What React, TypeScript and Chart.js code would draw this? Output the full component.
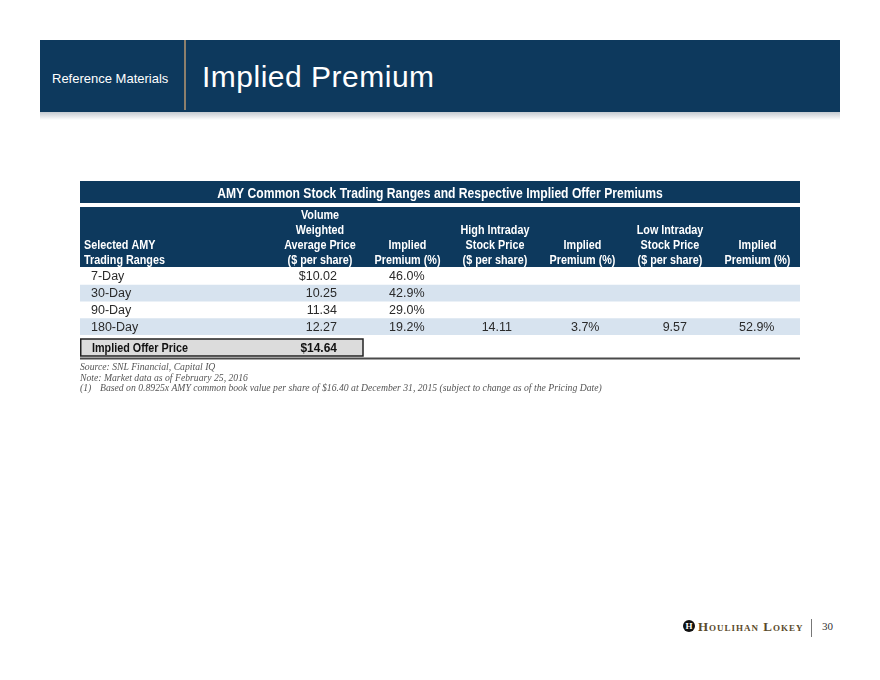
import React, { useEffect, useRef } from "react";
import { Chart, registerables } from "chart.js";

Chart.register(...registerables);

// ---- Data ----
const tableTitle = "AMY Common Stock Trading Ranges and Respective Implied Offer Premiums";
const columnHeaders: string[][] = [
  ["Selected AMY", "Trading Ranges"],
  ["Volume", "Weighted", "Average Price", "($ per share)"],
  ["Implied", "Premium (%)"],
  ["High Intraday", "Stock Price", "($ per share)"],
  ["Implied", "Premium (%)"],
  ["Low Intraday", "Stock Price", "($ per share)"],
  ["Implied", "Premium (%)"],
];
const ranges = ["7-Day", "30-Day", "90-Day", "180-Day"];
const vwapPrice = [10.02, 10.25, 11.34, 12.27];
const vwapPremium = [46.0, 42.9, 29.0, 19.2];
const highIntradayPrice: (number | null)[] = [null, null, null, 14.11];
const highIntradayPremium: (number | null)[] = [null, null, null, 3.7];
const lowIntradayPrice: (number | null)[] = [null, null, null, 9.57];
const lowIntradayPremium: (number | null)[] = [null, null, null, 52.9];
const offerLabel = "Implied Offer Price";
const impliedOfferPrice = 14.64;
const footnotes = [
  "Source: SNL Financial, Capital IQ",
  "Note: Market data as of February 25, 2016",
];
const footnote1Marker = "(1)";
const footnote1Text =
  "Based on 0.8925x AMY common book value per share of $16.40 at December 31, 2015 (subject to change as of the Pricing Date)";

// ---- Styles ----
const NAVY = "#0d395d";
const SHADE = "#d7e3ef";
const BODY_FONT = '"Liberation Sans", Arial, sans-serif';
const CONDENSE = 0.83;

const priceFmt = (v: number | null, i: number) =>
  v == null ? "" : (i === 0 ? "$" : "") + v.toFixed(2);
const pctFmt = (v: number | null) => (v == null ? "" : v.toFixed(1) + "%");

const columns: { values: (number | null)[]; fmt: (v: number | null, i: number) => string }[] = [
  { values: vwapPrice, fmt: priceFmt },
  { values: vwapPremium, fmt: (v) => pctFmt(v) },
  { values: highIntradayPrice, fmt: (v) => (v == null ? "" : v.toFixed(2)) },
  { values: highIntradayPremium, fmt: (v) => pctFmt(v) },
  { values: lowIntradayPrice, fmt: (v) => (v == null ? "" : v.toFixed(2)) },
  { values: lowIntradayPremium, fmt: (v) => pctFmt(v) },
];

function condensed(ctx: CanvasRenderingContext2D, text: string, x: number, y: number, k = CONDENSE) {
  const w = ctx.measureText(text).width;
  ctx.fillText(text, x, y, w * k);
}

const tablePlugin = {
  id: "tablePlugin",
  beforeDatasetsDraw(chart: any) {
    const { ctx, chartArea, scales } = chart;
    const y = scales.y;
    const left = chartArea.left;
    const right = chartArea.right;
    const top = chartArea.top;
    ctx.save();
    ctx.fillStyle = NAVY;
    ctx.fillRect(left, top - 87, right - left, 22);
    ctx.fillRect(left, top - 61, right - left, 60);
    const band = y.getPixelForValue(1) - y.getPixelForValue(0);
    ranges.forEach((_, i) => {
      if (i % 2 === 1) {
        const c = y.getPixelForValue(i);
        ctx.fillStyle = SHADE;
        ctx.fillRect(left, c - band / 2, right - left, band);
      }
    });
    ctx.restore();
  },
  afterDraw(chart: any) {
    const { ctx, chartArea, scales } = chart;
    const x = scales.x;
    const y = scales.y;
    const left = chartArea.left;
    const right = chartArea.right;
    const top = chartArea.top;
    const bottom = chartArea.bottom;
    ctx.save();
    // title
    ctx.fillStyle = "#ffffff";
    ctx.font = `bold 14px ${BODY_FONT}`;
    ctx.textAlign = "center";
    ctx.textBaseline = "alphabetic";
    condensed(ctx, tableTitle, (left + right) / 2, top - 70.5, 0.865);
    // headers
    ctx.font = `bold 13px ${BODY_FONT}`;
    const lastBase = top - 4.5;
    columnHeaders.forEach((lines, c) => {
      const n = lines.length;
      lines.forEach((line, k) => {
        const by = lastBase - (n - 1 - k) * 15;
        if (c === 0) {
          ctx.textAlign = "left";
          condensed(ctx, line, left + 4, by);
        } else {
          ctx.textAlign = "center";
          condensed(ctx, line, x.getPixelForValue(c), by);
        }
      });
    });
    // data rows
    ctx.fillStyle = "#2a2a2a";
    ctx.font = `12.5px ${BODY_FONT}`;
    ctx.textBaseline = "middle";
    ranges.forEach((r, i) => {
      const cy = y.getPixelForValue(i) + 0.5;
      ctx.textAlign = "left";
      ctx.fillText(r, left + 11, cy);
      ctx.textAlign = "right";
      columns.forEach((col, c) => {
        const s = col.fmt(col.values[i], i);
        if (s) ctx.fillText(s, x.getPixelForValue(c + 1) + 17, cy);
      });
    });
    // offer box
    const boxTop = bottom + 4;
    const boxBottom = bottom + 21;
    const boxRight = x.getPixelForValue(1.5);
    ctx.fillStyle = "#dcdcdc";
    ctx.fillRect(left + 1, boxTop, boxRight - left - 2, boxBottom - boxTop);
    ctx.strokeStyle = "#222222";
    ctx.lineWidth = 1.5;
    ctx.strokeRect(left + 0.75, boxTop, boxRight - left - 1.5, boxBottom - boxTop);
    ctx.fillStyle = "#111111";
    ctx.font = `bold 13px ${BODY_FONT}`;
    ctx.textAlign = "left";
    condensed(ctx, offerLabel, left + 12, (boxTop + boxBottom) / 2 + 0.5);
    ctx.textAlign = "right";
    ctx.font = `bold 13px ${BODY_FONT}`;
    condensed(ctx, "$" + impliedOfferPrice.toFixed(2), x.getPixelForValue(1) + 17, (boxTop + boxBottom) / 2 + 0.5, 0.92);
    // bottom rule
    ctx.strokeStyle = "#4a4a4a";
    ctx.lineWidth = 2;
    ctx.beginPath();
    ctx.moveTo(left, bottom + 23.5);
    ctx.lineTo(right, bottom + 23.5);
    ctx.stroke();
    ctx.restore();
  },
};

function TableChart() {
  const ref = useRef<HTMLCanvasElement | null>(null);
  useEffect(() => {
    if (!ref.current) return;
    const chart = new Chart(ref.current, {
      type: "bar",
      data: { labels: ranges, datasets: [] },
      options: {
        indexAxis: "y",
        animation: false,
        responsive: false,
        devicePixelRatio: 1,
        layout: { padding: { top: 90, bottom: 27, left: 0, right: 0 } },
        plugins: { legend: { display: false }, tooltip: { enabled: false }, title: { display: false } },
        scales: {
          x: { type: "linear", min: -1.743, max: 6.486, display: false },
          y: { type: "category", display: false, offset: true },
        },
      },
      plugins: [tablePlugin],
    } as any);
    return () => chart.destroy();
  }, []);
  return (
    <canvas
      ref={ref}
      width={720}
      height={184}
      style={{ position: "absolute", left: 80, top: 178, width: 720, height: 184 }}
    />
  );
}

export default function App() {
  return (
    <div
      style={{
        position: "absolute",
        left: 0,
        top: 0,
        width: 880,
        height: 680,
        background: "#ffffff",
        overflow: "hidden",
        fontFamily: BODY_FONT,
      }}
    >
      {/* header band */}
      <div style={{ position: "absolute", left: 40, top: 40, width: 800, height: 72, background: NAVY }} />
      <div
        style={{
          position: "absolute",
          left: 40,
          top: 112,
          width: 800,
          height: 8,
          background: "linear-gradient(rgba(60,80,100,0.3), rgba(255,255,255,0))",
        }}
      />
      <div style={{ position: "absolute", left: 184, top: 40, width: 1.5, height: 70, background: "#8c7f6c" }} />
      <div
        style={{
          position: "absolute",
          left: 52,
          top: 72,
          fontSize: 13,
          lineHeight: "13px",
          color: "#ffffff",
          whiteSpace: "nowrap",
        }}
      >
        Reference Materials
      </div>
      <div
        style={{
          position: "absolute",
          left: 202,
          top: 62,
          fontSize: 30,
          lineHeight: "30px",
          color: "#ffffff",
          whiteSpace: "nowrap",
          letterSpacing: 0.5,
        }}
      >
        Implied Premium
      </div>

      <TableChart />

      {/* footnotes */}
      <div
        style={{
          position: "absolute",
          left: 80,
          top: 362,
          fontFamily: '"Liberation Serif", serif',
          fontStyle: "italic",
          fontSize: 9.7,
          lineHeight: "10.5px",
          color: "#555555",
          whiteSpace: "nowrap",
        }}
      >
        {footnotes.map((f) => (
          <div key={f}>{f}</div>
        ))}
        <div>
          <span style={{ display: "inline-block", width: 20 }}>{footnote1Marker}</span>
          {footnote1Text}
        </div>
      </div>

      {/* logo */}
      <div
        style={{
          position: "absolute",
          left: 683,
          top: 620,
          width: 12,
          height: 12,
          borderRadius: "50%",
          background: "#111111",
          color: "#ffffff",
          fontFamily: '"Liberation Serif", serif',
          fontWeight: "bold",
          fontSize: 9,
          lineHeight: "12px",
          textAlign: "center",
        }}
      >
        H
      </div>
      <div
        style={{
          position: "absolute",
          left: 698,
          top: 620,
          fontFamily: '"Liberation Serif", serif',
          fontWeight: "bold",
          fontVariant: "small-caps",
          fontSize: 13,
          lineHeight: "13px",
          letterSpacing: 1,
          color: "#5a4a2b",
          whiteSpace: "nowrap",
        }}
      >
        Houlihan Lokey
      </div>
      <div style={{ position: "absolute", left: 811, top: 619, width: 1, height: 18, background: "#777777" }} />
      <div
        style={{
          position: "absolute",
          left: 822,
          top: 621,
          fontFamily: '"Liberation Serif", serif',
          fontSize: 11,
          lineHeight: "11px",
          color: "#333333",
        }}
      >
        30
      </div>
    </div>
  );
}
